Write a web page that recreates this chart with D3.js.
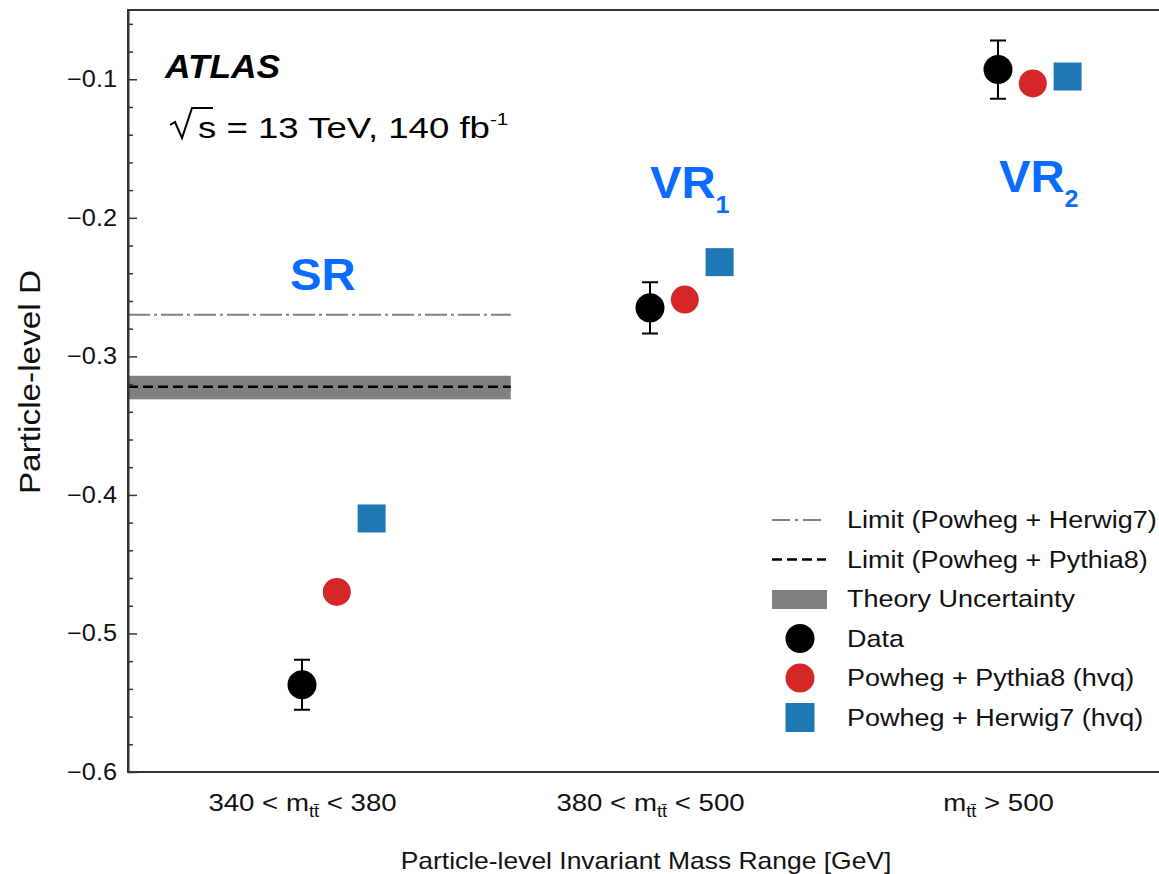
<!DOCTYPE html>
<html>
<head>
<meta charset="utf-8">
<script src="https://cdn.jsdelivr.net/npm/d3@7"></script>
<style>
  body { margin: 0; background: #fff; }
  svg { display: block; font-family: "Liberation Sans", Arial, sans-serif; }
</style>
</head>
<body>
<div class="graph-container"></div>
<script>
// data
var catLow = ["340 < ", "380 < ", ""]
var catHigh = [" < 380", " < 500", " > 500"]
var regionName = ["SR", "VR", "VR"]
var regionSub = ["", "1", "2"]
var dataD = [-0.537, -0.265, -0.093]
var dataErr = [0.018, 0.0185, 0.021]
var pythiaD = [-0.470, -0.259, -0.103]
var herwigD = [-0.417, -0.232, -0.098]
var limitHerwig = -0.270
var limitPythia = -0.322
var theoryBand = [-0.331, -0.314]
var yTicks = [-0.6, -0.5, -0.4, -0.3, -0.2, -0.1]
var legendLabels = ["Limit (Powheg + Herwig7)", "Limit (Powheg + Pythia8)", "Theory Uncertainty",
                    "Data", "Powheg + Pythia8 (hvq)", "Powheg + Herwig7 (hvq)"]

// SVG setup
var W = 1159, H = 874
var margin = {top: 10, left: 128, bottom: 102}
var plotW = 1044, plotH = H - margin.top - margin.bottom
var sx = 1.15   // the original text is a bit wide

var blue = "#1f77b4", red = "#d62728", regionBlue = "#0a6cff"

var x = d3.scaleLinear().domain([0, 3]).range([0, plotW])
var y = d3.scaleLinear().domain([-0.6, -0.05]).range([plotH, 0])

var root = d3.select(".graph-container").append("svg")
    .attr("width", W)
    .attr("height", H)
var svg = root.append("g")
    .attr("transform", "translate(" + margin.left + "," + margin.top + ")")

// theory band + limit lines (SR only)
svg.append("rect")
  .attr("x", x(0))
  .attr("width", x(1.1) - x(0))
  .attr("y", y(theoryBand[1]))
  .attr("height", y(theoryBand[0]) - y(theoryBand[1]))
  .attr("fill", "#808080")

svg.append("line")
  .attr("x1", x(0)).attr("x2", x(1.1))
  .attr("y1", y(limitHerwig)).attr("y2", y(limitHerwig))
  .attr("stroke", "#808080").attr("stroke-width", 2)
  .attr("stroke-dasharray", "22,4,3,4")

svg.append("line")
  .attr("x1", x(0)).attr("x2", x(1.1))
  .attr("y1", y(limitPythia)).attr("y2", y(limitPythia))
  .attr("stroke", "#000").attr("stroke-width", 2.5)
  .attr("stroke-dasharray", "10,5")

// frame
svg.append("rect")
  .attr("width", plotW).attr("height", plotH)
  .attr("fill", "none").attr("stroke", "#333").attr("stroke-width", 2)

// y axis, ticks pointing inward
var yAxis = d3.axisLeft(y).tickValues(yTicks).tickSizeInner(-9).tickSizeOuter(0).tickPadding(10)
  .tickFormat(d => d3.format(".1f")(d).replace("-", "\u2212"))
var ya = svg.append("g").attr("class", "axis y-axis").call(yAxis)
ya.select(".domain").attr("stroke", "#333").attr("stroke-width", 2)
ya.selectAll(".tick line").attr("stroke", "#333").attr("stroke-width", 1.5)
ya.selectAll(".tick text")
  .attr("font-size", 23).attr("fill", "#111")
  .attr("font-family", "Liberation Sans, Arial, sans-serif")
  .attr("transform", "scale(1.1,1)")

var minor = d3.range(-0.58, -0.05, 0.02).filter(v => Math.abs(v * 10 - Math.round(v * 10)) > 0.01)
var yMinor = d3.axisLeft(y).tickValues(minor).tickSizeInner(-5).tickSizeOuter(0).tickFormat("")
var ym = svg.append("g").attr("class", "axis y-minor").call(yMinor)
ym.select(".domain").remove()
ym.selectAll(".tick line").attr("stroke", "#333").attr("stroke-width", 1.5)

// x axis with category labels
var xAxis = d3.axisBottom(x).tickValues([0.5, 1.5, 2.5]).tickSize(0).tickPadding(22).tickFormat("")
var xa = svg.append("g").attr("class", "axis x-axis")
  .attr("transform", "translate(0," + plotH + ")")
  .call(xAxis)
xa.select(".domain").remove()
xa.selectAll(".tick text").each(function(d, i) {
  var t = d3.select(this)
    .attr("font-size", 24).attr("fill", "#111")
    .attr("font-family", "Liberation Sans, Arial, sans-serif")
    .attr("transform", "scale(" + sx + ",1)")
  t.append("tspan").text(catLow[i] + "m")
  t.append("tspan").attr("font-size", 16).attr("dy", 6).text("tt\u0304")
  t.append("tspan").attr("dy", -6).text(catHigh[i])
})

// error bars
var cats = d3.range(3)
svg.selectAll(".err").data(cats).enter().append("path")
  .attr("class", "err")
  .attr("d", i => {
    var cx = x(i + 0.5), t = y(dataD[i] + dataErr[i]), b = y(dataD[i] - dataErr[i])
    return "M" + (cx - 8) + "," + t + "H" + (cx + 8) + "M" + cx + "," + t + "V" + b +
           "M" + (cx - 8) + "," + b + "H" + (cx + 8)
  })
  .attr("stroke", "#000").attr("stroke-width", 2).attr("fill", "none")

svg.selectAll(".data").data(cats).enter().append("circle")
  .attr("class", "data")
  .attr("cx", i => x(i + 0.5)).attr("cy", i => y(dataD[i]))
  .attr("r", 14.5).attr("fill", "#000")

svg.selectAll(".pythia").data(cats).enter().append("circle")
  .attr("class", "pythia")
  .attr("cx", i => x(i + 0.6)).attr("cy", i => y(pythiaD[i]))
  .attr("r", 14).attr("fill", red)

var sq = 28
svg.selectAll(".herwig").data(cats).enter().append("rect")
  .attr("class", "herwig")
  .attr("x", i => x(i + 0.7) - sq / 2).attr("y", i => y(herwigD[i]) - sq / 2)
  .attr("width", sq).attr("height", sq).attr("fill", blue)

// region labels
var regionPos = [[290, 290], [650, 198], [999, 192]]
regionPos.forEach((p, i) => {
  var t = root.append("text")
    .attr("transform", "translate(" + p[0] + "," + p[1] + ") scale(1.05,1)")
    .attr("font-size", 45).attr("font-weight", "bold").attr("fill", regionBlue)
  t.append("tspan").text(regionName[i])
  if (regionSub[i]) t.append("tspan").attr("font-size", 24).attr("dy", 15).text(regionSub[i])
})

// ATLAS label
root.append("text")
  .attr("transform", "translate(165,78) scale(1.04,1)")
  .attr("font-size", 34).attr("font-weight", "bold").attr("font-style", "italic")
  .attr("fill", "#000").text("ATLAS")

// sqrt(s) line: radical sign drawn as a path so it can carry its bar over the s
root.append("path")
  .attr("d", "M170,125 L175,122 L182,138 L192,108 L213,108")
  .attr("fill", "none").attr("stroke", "#000").attr("stroke-width", 2)
var en = root.append("text")
  .attr("transform", "translate(198,138) scale(1.22,1)")
  .attr("font-size", 30).attr("fill", "#000")
en.append("tspan").text("s = 13 TeV, 140 fb")
en.append("tspan").attr("font-size", 17).attr("dy", -13).text("-1")

// axis titles
root.append("text")
  .attr("transform", "translate(646,869) scale(" + sx + ",1)")
  .attr("text-anchor", "middle").attr("font-size", 23).attr("fill", "#111")
  .text("Particle-level Invariant Mass Range [GeV]")

root.append("text")
  .attr("transform", "translate(40,382) rotate(-90) scale(" + sx + ",1)")
  .attr("text-anchor", "middle").attr("font-size", 29).attr("fill", "#111")
  .text("Particle-level D")

// legend
var lx = 800, ltx = 847, ly0 = 520, ldy = 39.5
var leg = root.append("g").attr("class", "legend")
legendLabels.forEach((lab, i) => {
  var ly = ly0 + i * ldy
  if (i === 0) {
    leg.append("line").attr("x1", lx - 28).attr("x2", lx + 26).attr("y1", ly).attr("y2", ly)
      .attr("stroke", "#808080").attr("stroke-width", 2).attr("stroke-dasharray", "18,5,3,5")
  } else if (i === 1) {
    leg.append("line").attr("x1", lx - 28).attr("x2", lx + 26).attr("y1", ly).attr("y2", ly)
      .attr("stroke", "#000").attr("stroke-width", 2.5).attr("stroke-dasharray", "10,5")
  } else if (i === 2) {
    leg.append("rect").attr("x", lx - 28).attr("width", 55).attr("y", ly - 9).attr("height", 19)
      .attr("fill", "#808080")
  } else if (i === 3) {
    leg.append("circle").attr("cx", lx).attr("cy", ly).attr("r", 14.5).attr("fill", "#000")
  } else if (i === 4) {
    leg.append("circle").attr("cx", lx).attr("cy", ly).attr("r", 14.5).attr("fill", red)
  } else {
    leg.append("rect").attr("x", lx - 14.5).attr("y", ly - 14.5).attr("width", 29).attr("height", 29)
      .attr("fill", blue)
  }
  leg.append("text")
    .attr("transform", "translate(" + ltx + "," + (ly + 8) + ") scale(1.125,1)")
    .attr("font-size", 24).attr("fill", "#111").text(lab)
})
</script>
</body>
</html>
